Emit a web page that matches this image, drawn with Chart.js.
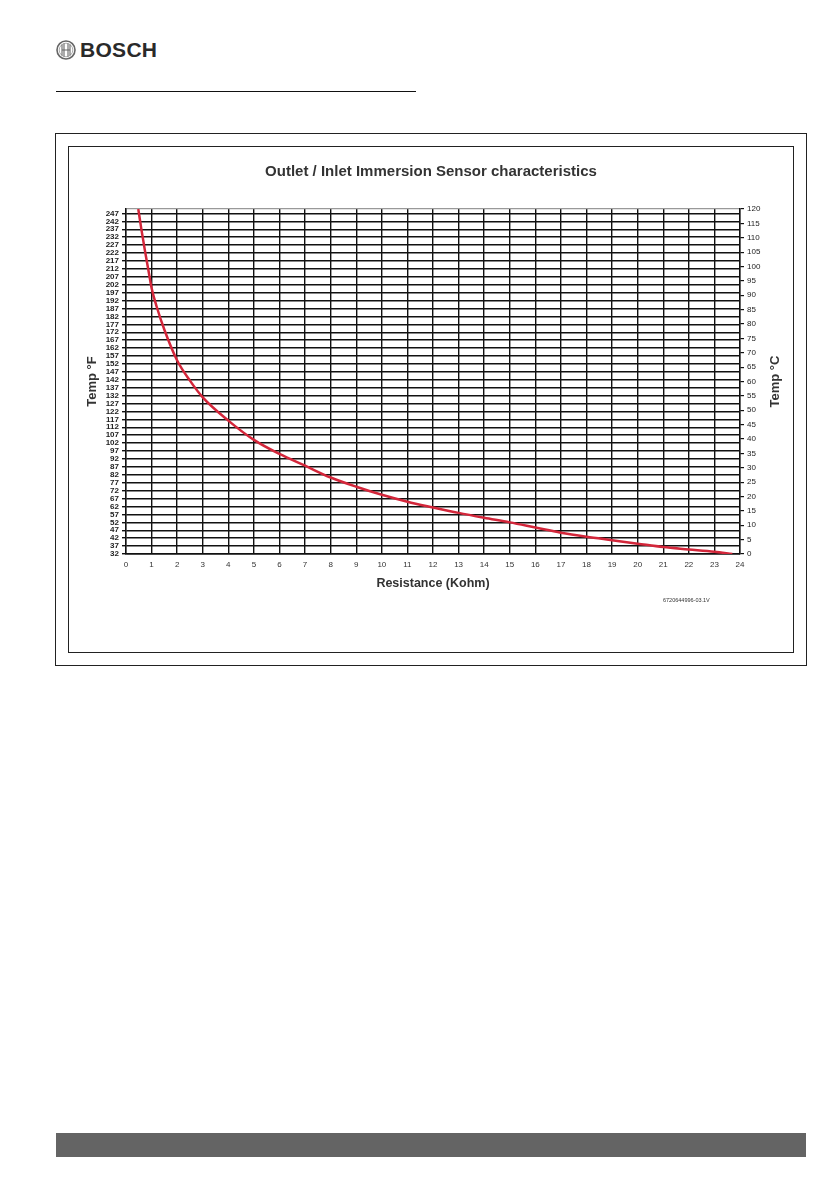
<!DOCTYPE html>
<html>
<head>
<meta charset="utf-8">
<script src="https://cdn.jsdelivr.net/npm/chart.js@4.4.1/dist/chart.umd.min.js"></script>
<style>
  body { margin: 0; background: #fff; width: 839px; height: 1190px; position: relative; font-family: 'Liberation Sans', Arial, sans-serif; }
  .logo { position: absolute; left: 56px; top: 40px; }
  .brand { position: absolute; left: 80px; top: 38px; font-weight: bold; font-size: 21px; color: #2a2a2a; letter-spacing: 0.3px; }
  .rule { position: absolute; left: 56px; top: 91px; width: 360px; border-top: 1.5px solid #111; }
  .outer { position: absolute; left: 55px; top: 133px; width: 750px; height: 531px; border: 1px solid #222; }
  .inner { position: absolute; left: 68px; top: 146px; width: 724px; height: 505px; border: 1px solid #222; }
  #wrap { position: absolute; left: 69px; top: 147px; width: 724px; height: 505px; }
  .code { position: absolute; left: 663px; top: 597px; font-size: 5.5px; color: #333; }
  .bar { position: absolute; left: 56px; top: 1133px; width: 750px; height: 24px; background: #646464; }
</style>
</head>
<body>
<svg class="logo" width="20" height="20" viewBox="0 0 20 20">
  <circle cx="10" cy="10" r="9" fill="none" stroke="#666" stroke-width="1.6"/>
  <circle cx="10" cy="10" r="6.8" fill="none" stroke="#999" stroke-width="0.8"/>
  <path d="M6 4.5 V15.5 M14 4.5 V15.5 M6 10 H14 M8 3.6 V16.4 M12 3.6 V16.4" stroke="#666" stroke-width="1.1" fill="none"/>
</svg>
<div class="brand">BOSCH</div>
<div class="rule"></div>
<div class="outer"></div>
<div class="inner"></div>
<div id="wrap"><canvas id="myChart" width="724" height="505"></canvas></div>
<div class="code">6720644996-03.1V</div>
<div class="bar"></div>
<script>
// sensor curve: resistance (kOhm) vs temperature (°C)
const resistance = [0.48, 0.6, 0.75, 0.9, 1.0, 1.2, 1.5, 2, 2.5, 3, 4, 5, 6, 7, 8, 9, 10, 11, 12, 13, 14, 15, 16, 17, 18, 19, 20, 21, 22, 23, 23.7]
const tempC = [120, 113, 105, 97.5, 92.5, 86, 78, 67.3, 60.3, 54.5, 46.4, 39.7, 34.8, 30.7, 26.6, 23.4, 20.6, 18.2, 16.2, 14.3, 12.6, 11.0, 9.2, 7.4, 6.0, 4.8, 3.6, 2.4, 1.6, 0.8, 0]

// left axis labels (°F)
const fTicks = [32, 37, 42, 47, 52, 57, 62, 67, 72, 77, 82, 87, 92, 97, 102, 107, 112, 117, 122, 127, 132, 137, 142, 147, 152, 157, 162, 167, 172, 177, 182, 187, 192, 197, 202, 207, 212, 217, 222, 227, 232, 237, 242, 247]

Chart.defaults.font.family = "'Liberation Sans', Arial, sans-serif"
Chart.defaults.color = '#222'

const rightTitle = {
    id: 'rightTitle',
    afterDraw(chart) {
        const ctx = chart.ctx
        const a = chart.chartArea
        ctx.save()
        ctx.translate(706, (a.top + a.bottom) / 2)
        ctx.rotate(-Math.PI / 2)
        ctx.font = "bold 13px 'Liberation Sans', Arial, sans-serif"
        ctx.fillStyle = '#333'
        ctx.textAlign = 'center'
        ctx.textBaseline = 'middle'
        ctx.fillText('Temp °C', 0, 0)
        ctx.restore()
    }
}

new Chart('myChart', {
    type: 'scatter',
    data: {
        datasets: [{
            data: resistance.map((r, i) => ({ x: r, y: tempC[i] })),
            yAxisID: 'yC',
            showLine: true,
            cubicInterpolationMode: 'monotone',
            borderColor: '#d3263a',
            borderWidth: 2.5,
            pointRadius: 0,
        }],
    },
    options: {
        responsive: false,
        animation: false,
        devicePixelRatio: 1,
        layout: { padding: 0 },
        plugins: {
            legend: { display: false },
            tooltip: { enabled: false },
            title: {
                display: true,
                text: 'Outlet / Inlet Immersion Sensor characteristics',
                color: '#333',
                font: { size: 15, weight: 'bold' },
                padding: { top: 16, bottom: 28 },
            },
        },
        scales: {
            x: {
                type: 'linear',
                min: 0,
                max: 24,
                ticks: { stepSize: 1, padding: 6, color: '#333', font: { size: 8 } },
                grid: { color: '#111', lineWidth: 1.4, drawTicks: false },
                border: { color: '#111', width: 1.4 },
                title: {
                    display: true,
                    text: 'Resistance (Kohm)',
                    color: '#333',
                    font: { size: 12.5, weight: 'bold' },
                    padding: { top: 0, bottom: 61 },
                },
                afterFit(scale) { scale.height = 98 },
            },
            yF: {
                type: 'linear',
                position: 'left',
                min: 32,
                max: 249.8,
                afterBuildTicks(scale) { scale.ticks = fTicks.map(v => ({ value: v })) },
                ticks: { autoSkip: false, padding: 3, color: '#222', font: { size: 8, weight: 'bold' } },
                grid: { color: '#111', lineWidth: 1.4, tickLength: 4 },
                border: { color: '#111', width: 1.4 },
                title: {
                    display: true,
                    text: 'Temp °F',
                    color: '#333',
                    font: { size: 13, weight: 'bold' },
                    padding: { top: 16, bottom: 0 },
                },
                afterFit(scale) { scale.width = 57 },
            },
            yC: {
                type: 'linear',
                position: 'right',
                min: 0,
                max: 120,
                ticks: { autoSkip: false, stepSize: 5, padding: 3, color: '#222', font: { size: 8 } },
                grid: {
                    color: c => c.tick && c.tick.value === 120 ? '#999' : 'rgba(0,0,0,0)',
                    tickColor: '#111',
                    lineWidth: 1.2,
                    tickLength: 4,
                },
                border: { color: '#111', width: 1.4 },
                afterFit(scale) { scale.width = 53 },
            },
        }
    },
    plugins: [rightTitle],
});
</script>
</body>
</html>
